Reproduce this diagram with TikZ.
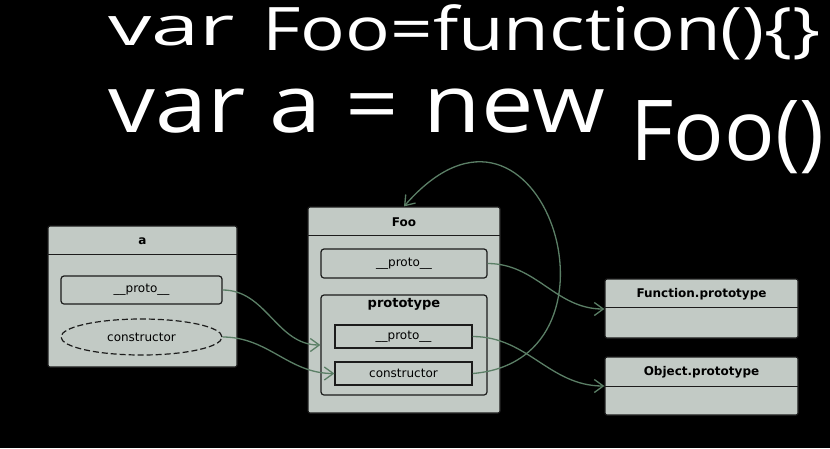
\documentclass[tikz,border=0pt]{standalone}
\usepackage{fontspec}
\setmainfont{DejaVu Sans}
\newfontfamily\hand{Open Sans}
\usetikzlibrary{arrows.meta,shapes.geometric}
\definecolor{boxfill}{HTML}{C2CAC5}
\definecolor{boxline}{HTML}{1C1C1C}
\definecolor{linkc}{HTML}{5B7F66}
\begin{document}
\begin{tikzpicture}[x=1pt,y=-1pt,
  classbox/.style={draw=boxline, fill=boxfill, line width=1.2pt, rounded corners=2pt, inner sep=0pt},
  field/.style={draw=boxline, fill=boxfill, line width=1.2pt, rounded corners=3pt, inner sep=0pt, font=\fontsize{12}{14}\selectfont},
  sqfield/.style={field, rounded corners=0pt},
  oval/.style={ellipse, draw=boxline, fill=boxfill, line width=1.2pt, dashed, dash pattern=on 6pt off 3pt, inner sep=0pt, font=\fontsize{12}{14}\selectfont},
  ttl/.style={font=\bfseries\fontsize{12}{14}\selectfont, text=black},
  sep/.style={draw=boxline, line width=1.2pt},
  linkline/.style={draw=linkc, line width=1.3pt, -{Straight Barb[length=9pt,width=13pt]}},
  handw/.style={text=white, inner sep=0pt, anchor=base west}]
\fill[black] (0,0) rectangle (830,448);
\useasboundingbox (0,0) rectangle (830,448);
% handwriting
\node[handw, font=\hand\fontsize{54}{54}\selectfont] (h1) at (108,45) {\scalebox{1.6}[1]{var}};
\node[handw, font=\hand\fontsize{60}{60}\selectfont] (h2) at (262,50) {\scalebox{1.24}[1]{Foo=function()\{\}}};
\node[handw, font=\hand\fontsize{80}{80}\selectfont] (h3) at (108,132) {\scalebox{1.17}[1]{var a = new}};
\node[handw, font=\hand\fontsize{84}{84}\selectfont] (h4) at (630,160) {Foo()};

% box a
\node[classbox, minimum width=189pt, minimum height=141pt] (A) at (142.5,296.5) {};
\draw[sep] ([yshift=-29pt]A.north west) -- ([yshift=-29pt]A.north east);
\node[ttl] (Atitle) at (142.5,241) {a};
\node[field, minimum width=161pt, minimum height=28pt] (Aproto) at (141.5,290) {\_\_proto\_\_};
\node[oval, minimum width=161pt, minimum height=36pt] (Acons) at (141.5,337) {constructor};

% box Foo
\node[classbox, minimum width=192pt, minimum height=206pt] (F) at (404,310) {};
\draw[sep] ([yshift=-29pt]F.north west) -- ([yshift=-29pt]F.north east);
\node[ttl] (Ftitle) at (404,222) {Foo};
\node[field, minimum width=166pt, minimum height=29pt] (Fproto) at (404,263.5) {\_\_proto\_\_};
\node[field, minimum width=166pt, minimum height=100pt] (P) at (404,345) {};
\node[ttl, font=\bfseries\fontsize{13}{15}\selectfont] (Ptitle) at (404,304) {prototype};
\node[sqfield, minimum width=137pt, minimum height=23pt] (Pproto) at (403.5,336.5) {\_\_proto\_\_};
\node[sqfield, minimum width=137pt, minimum height=23pt] (Pcons) at (403.5,373.5) {constructor};

% Function.prototype
\node[classbox, minimum width=193pt, minimum height=59pt] (FP) at (701.5,308.5) {};
\draw[sep] ([yshift=-29pt]FP.north west) -- ([yshift=-29pt]FP.north east);
\node[ttl] (FPtitle) at (701.5,294) {Function.prototype};

% Object.prototype
\node[classbox, minimum width=193pt, minimum height=58pt] (OP) at (701.5,386) {};
\draw[sep] ([yshift=-30pt]OP.north west) -- ([yshift=-30pt]OP.north east);
\node[ttl] (OPtitle) at (701.5,372) {Object.prototype};

% connectors
\draw[linkline] (Aproto.east) to[out=0, in=180] (P.west);
\draw[linkline] (Acons.east) to[out=0, in=180] (Pcons.west);
\draw[linkline] (Fproto.east) to[out=0, in=180] ([yshift=-0.5pt]FP.west);
\draw[linkline] (Pproto.east) to[out=0, in=180] (OP.west);
\draw[linkline] (Pcons.east) .. controls (640,360) and (540,50) .. (F.north);
\end{tikzpicture}
\end{document}
